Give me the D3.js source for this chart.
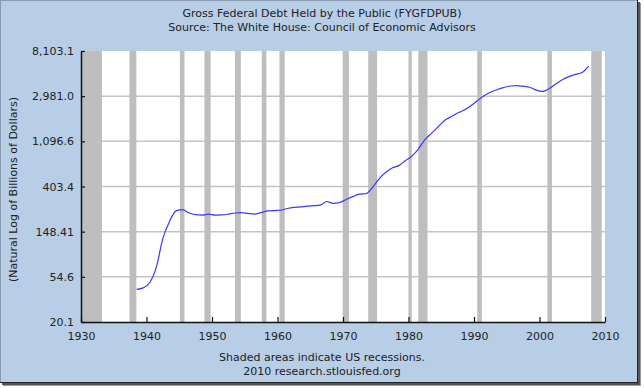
<!DOCTYPE html>
<html>
<head>
<meta charset="utf-8">
<script src="https://cdn.jsdelivr.net/npm/d3@7"></script>
<style>
  body { margin: 0; background: #fff; }
  text { font-family: "DejaVu Sans", Verdana, sans-serif; fill: #222; }
</style>
</head>
<body>
<div id="chart"></div>
<script>
// fiscal years and debt held by the public (billions of dollars)
const years = [1939, 1940, 1941, 1942, 1943, 1944, 1945, 1946, 1947, 1948, 1949,
  1950, 1951, 1952, 1953, 1954, 1955, 1956, 1957, 1958, 1959,
  1960, 1961, 1962, 1963, 1964, 1965, 1966, 1967, 1968, 1969,
  1970, 1971, 1972, 1973, 1974, 1975, 1976, 1977, 1978, 1979,
  1980, 1981, 1982, 1983, 1984, 1985, 1986, 1987, 1988, 1989,
  1990, 1991, 1992, 1993, 1994, 1995, 1996, 1997, 1998, 1999,
  2000, 2001, 2002, 2003, 2004, 2005, 2006, 2007, 2008];
const debt = [41.4, 42.8, 48.2, 67.8, 127.8, 184.8, 235.2, 241.9, 224.3, 216.3, 214.3,
  219.0, 214.3, 214.8, 218.4, 224.5, 226.6, 222.2, 219.3, 226.3, 234.7,
  236.8, 238.4, 248.0, 254.0, 256.8, 260.8, 263.7, 266.6, 289.5, 278.1,
  283.2, 303.0, 322.4, 340.9, 343.7, 394.7, 477.4, 549.1, 607.1, 640.3,
  711.9, 789.4, 924.6, 1137.3, 1307.0, 1507.3, 1740.6, 1889.8, 2051.6, 2190.7,
  2411.6, 2689.0, 2999.7, 3248.4, 3433.1, 3604.4, 3734.1, 3772.3, 3721.1, 3632.4,
  3409.8, 3319.6, 3540.4, 3913.4, 4295.5, 4592.2, 4829.0, 5035.1, 5803.1];

// recession start / end (decimal years)
const recessionStart = [1929.6, 1937.4, 1945.1, 1948.85, 1953.5, 1957.6, 1960.3, 1969.95, 1973.85, 1980.0, 1981.5, 1990.5, 2001.2, 2007.9];
const recessionEnd   = [1933.2, 1938.45, 1945.8, 1949.8, 1954.4, 1958.3, 1961.1, 1970.9, 1975.2, 1980.5, 1982.9, 1991.2, 2001.9, 2009.5];

const yTickValues = [Math.exp(3), Math.exp(4), Math.exp(5), Math.exp(6), Math.exp(7), Math.exp(8), Math.exp(9)];
const yTickLabels = ["20.1", "54.6", "148.41", "403.4", "1,096.6", "2,981.0", "8,103.1"];
const xTickValues = [1930, 1940, 1950, 1960, 1970, 1980, 1990, 2000, 2010];

const width = 644, height = 388;
const margin = { top: 51, right: 39, bottom: 66, left: 81 };

const svg = d3.select("#chart").append("svg")
  .attr("width", width)
  .attr("height", height);

// frame with shadow
svg.append("rect").attr("x", 3).attr("y", 3).attr("width", 638).attr("height", 383)
  .attr("fill", "#9a9a9a");
svg.append("rect").attr("x", 2).attr("y", 2).attr("width", 638).attr("height", 383)
  .attr("fill", "#555");
svg.append("rect").attr("x", 0.5).attr("y", 0.5).attr("width", 637).attr("height", 382)
  .attr("fill", "#b7cee6").attr("stroke", "#8a9bb0");
svg.append("line").attr("x1", 637.5).attr("x2", 637.5).attr("y1", 0).attr("y2", 383.5)
  .attr("stroke", "#222");
svg.append("line").attr("x1", 0).attr("x2", 638).attr("y1", 382.5).attr("y2", 382.5)
  .attr("stroke", "#222");

const x = d3.scaleLinear()
  .domain([1930, 2010])
  .range([margin.left, width - margin.right]);

const y = d3.scaleLog()
  .domain([Math.exp(3), Math.exp(9)])
  .range([height - margin.bottom, margin.top]);

// plot background
svg.append("rect")
  .attr("x", x(1930)).attr("y", y(Math.exp(9)))
  .attr("width", x(2010) - x(1930))
  .attr("height", y(Math.exp(3)) - y(Math.exp(9)))
  .attr("fill", "#fff");

// horizontal grid
svg.append("g")
  .selectAll("line")
  .data(yTickValues.slice(1, -1))
  .join("line")
  .attr("x1", x(1930)).attr("x2", x(2010))
  .attr("y1", d => y(d)).attr("y2", d => y(d))
  .attr("stroke", "#c4c4c4")
  .attr("stroke-width", 1.5);

// recession bars
svg.append("g")
  .selectAll("rect")
  .data(recessionStart.map((s, i) => ({ s: Math.max(s, 1930), e: recessionEnd[i] })))
  .join("rect")
  .attr("x", d => x(d.s))
  .attr("width", d => x(d.e) - x(d.s))
  .attr("y", y(Math.exp(9)))
  .attr("height", y(Math.exp(3)) - y(Math.exp(9)))
  .attr("fill", "#bebebe");

// series (annual fiscal-year values, plotted at mid of prior calendar year)
const data = years.map((yr, i) => ({ year: yr - 0.5, value: debt[i] }));
svg.append("path")
  .datum(data)
  .attr("fill", "none")
  .attr("stroke", "#3838ff")
  .attr("stroke-width", 1.2)
  .attr("d", d3.line()
    .x(d => x(d.year))
    .y(d => y(d.value))
    .curve(d3.curveMonotoneX));

// axes
const xAxis = d3.axisBottom(x)
  .tickValues(xTickValues)
  .tickFormat(d3.format("d"))
  .tickSizeInner(-5)
  .tickSizeOuter(0)
  .tickPadding(10);
const xg = svg.append("g")
  .attr("transform", `translate(0,${height - margin.bottom})`)
  .call(xAxis);

const yAxis = d3.axisLeft(y)
  .tickValues(yTickValues)
  .tickFormat((d, i) => yTickLabels[i])
  .tickSizeInner(-4)
  .tickSizeOuter(0)
  .tickPadding(7);
const yg = svg.append("g")
  .attr("transform", `translate(${margin.left},0)`)
  .call(yAxis);

[xg, yg].forEach(g => {
  g.select(".domain").attr("stroke", "#111").attr("stroke-width", 1.5);
  g.selectAll(".tick line").attr("stroke", "#111").attr("stroke-width", 1.2);
  g.selectAll(".tick text").attr("fill", "#222")
    .style("font-family", "'DejaVu Sans', Verdana, sans-serif")
    .style("font-size", "11px");
});

// titles
svg.append("text")
  .attr("x", 322).attr("y", 17)
  .attr("text-anchor", "middle")
  .style("font-size", "11px")
  .text("Gross Federal Debt Held by the Public (FYGFDPUB)");
svg.append("text")
  .attr("x", 322).attr("y", 31)
  .attr("text-anchor", "middle")
  .style("font-size", "11px")
  .text("Source: The White House: Council of Economic Advisors");

svg.append("text")
  .attr("transform", "rotate(-90)")
  .attr("x", -(margin.top + (height - margin.bottom - margin.top) / 2) - 3)
  .attr("y", 17)
  .attr("text-anchor", "middle")
  .style("font-size", "11px")
  .text("(Natural Log of Billions of Dollars)");

svg.append("text")
  .attr("x", 322).attr("y", 361)
  .attr("text-anchor", "middle")
  .style("font-size", "11px")
  .text("Shaded areas indicate US recessions.");
svg.append("text")
  .attr("x", 322).attr("y", 375)
  .attr("text-anchor", "middle")
  .style("font-size", "11px")
  .text("2010 research.stlouisfed.org");
</script>
</body>
</html>
